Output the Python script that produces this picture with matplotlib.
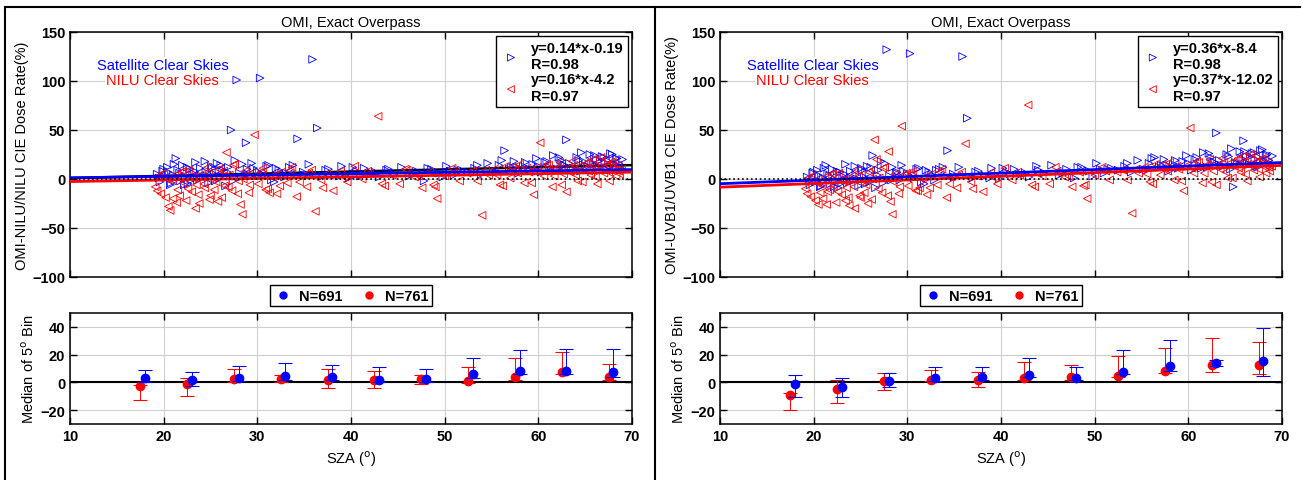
import matplotlib.pyplot as plt
import numpy as np

plt.rcParams['font.family'] = ['Liberation Sans', 'DejaVu Sans']

# SZA of the individual overpasses (same in both panels)
sza_sat = [19.3, 19.6, 19.9, 20.2, 20.4, 20.7, 21.0, 21.3, 21.5, 21.8,
           22.0, 22.3, 22.6, 22.8, 23.1, 23.4, 23.6, 23.9, 24.2, 24.5,
           24.8, 25.1, 25.4, 25.7, 26.0, 26.3, 26.6, 26.9, 27.2, 27.8,
           28.1, 28.4, 28.8, 29.2, 29.6, 30.0, 30.3, 30.7, 31.2, 31.8,
           32.3, 32.9, 33.4, 34.0, 34.3, 34.9, 35.5, 35.9, 36.4, 37.0,
           37.6, 38.3, 39.0, 39.8, 40.6, 41.4, 42.2, 43.0, 43.8, 44.6,
           45.4, 46.2, 47.0, 47.8, 48.6, 49.4, 50.2, 51.0, 51.8, 52.5,
           53.2, 53.9, 54.6, 55.2, 55.8, 56.4, 56.9, 57.4, 57.9, 58.4,
           58.9, 59.4, 59.8, 60.3, 60.7, 61.2, 61.6, 62.0, 62.4, 62.8,
           63.0, 63.3, 63.7, 64.1, 64.5, 64.8, 65.2, 65.5, 65.9, 66.2,
           66.5, 66.8, 67.1, 67.4, 67.7, 68.0, 68.3, 68.6, 68.8, 69.0,
           20.5, 22.2, 24.0, 25.9, 27.4, 29.0, 33.1, 41.0, 50.6, 57.1,
           19.5, 20.0, 20.8, 21.1, 21.7, 22.5, 23.0, 23.3, 24.4, 24.6,
           25.2, 25.5, 26.1, 26.8, 27.6, 28.3, 28.9, 29.4, 30.5, 31.0,
           31.5, 32.0, 32.6, 33.8, 35.0, 37.3, 38.8, 40.2, 42.6, 44.0,
           46.6, 48.2, 49.8, 51.4, 53.5, 55.5, 56.1, 57.7, 58.6, 59.1,
           60.0, 60.9, 61.4, 62.2, 62.6, 63.5, 64.3, 64.6, 65.0, 65.7,
           66.0, 66.3, 66.6, 67.0, 67.2, 67.5, 67.9, 68.1, 68.4, 68.7]
sza_nilu = [19.1, 19.4, 19.7, 20.0, 20.3, 20.7, 21.0, 21.2, 21.5, 21.9,
            22.1, 22.4, 22.7, 23.0, 23.2, 23.5, 23.8, 24.1, 24.4, 24.7,
            25.0, 25.3, 25.6, 25.9, 26.2, 26.5, 26.7, 27.0, 27.3, 27.6,
            28.0, 28.4, 28.7, 29.1, 29.4, 29.7, 30.1, 30.6, 31.1, 31.6,
            32.1, 32.6, 33.2, 33.7, 34.2, 34.7, 35.3, 35.8, 36.2, 36.8,
            37.4, 38.1, 38.9, 39.6, 40.4, 41.2, 42.0, 42.9, 43.6, 44.4,
            45.2, 46.0, 46.8, 47.6, 48.4, 49.2, 50.0, 50.8, 51.6, 52.4,
            53.0, 54.0, 54.7, 55.3, 55.9, 56.5, 57.0, 57.5, 58.0, 58.5,
            59.0, 59.5, 59.9, 60.2, 60.6, 61.1, 61.5, 61.9, 62.3, 62.7,
            63.0, 63.2, 63.6, 64.0, 64.4, 64.7, 65.1, 65.4, 65.8, 66.1,
            66.4, 66.7, 67.0, 67.3, 67.6, 67.9, 68.2, 68.5, 68.7, 68.9,
            20.5, 21.7, 23.4, 24.9, 26.4, 28.2, 29.9, 31.3, 45.8, 49.0,
            19.3, 19.8, 20.2, 20.9, 21.4, 22.0, 22.6, 23.1, 23.7, 24.3,
            24.8, 25.4, 25.8, 26.3, 26.9, 27.4, 27.9, 28.5, 29.2, 30.4,
            30.9, 31.8, 32.4, 33.5, 34.5, 35.5, 37.0, 39.3, 41.8, 43.3,
            47.2, 48.8, 51.2, 53.5, 54.4, 55.6, 56.2, 57.2, 57.8, 58.8,
            59.3, 60.4, 60.9, 61.7, 62.1, 62.5, 63.4, 63.8, 64.2, 64.9,
            65.3, 65.6, 66.0, 66.3, 66.9, 67.2, 67.5, 67.8, 68.3, 68.6]

# left panel: OMI-NILU/NILU (%)
diff_sat_nilu = [5, -3, 8, 2, 12, -6, 4, 21, 9, -2,
                 14, 3, -5, 10, 6, 17, -1, 11, 2, 7,
                 -4, 13, 5, 16, 1, 9, -7, 12, 50, 101,
                 6, 15, 37, 3, 11, 8, 103, 4, 14, -3,
                 9, 2, 12, 5, 41, 7, 15, 122, 52, 3,
                 10, 4, 13, 1, 8, 11, 6, 2, 9, 5,
                 12, 3, 8, -2, 10, 6, 13, 4, 9, 7,
                 11, 5, 16, 8, 14, 29, 10, 18, 6, 13,
                 9, 15, 21, 7, 17, 12, 24, 10, 19, 14,
                 40, 16, 11, 22, 8, 18, 13, 25, 15, 20,
                 12, 23, 17, 9, 26, 14, 21, 16, 11, 20,
                 7, -6, 3, 9, -2, 5, 6, 3, 8, 12,
                 1, 10, -4, 15, 6, 12, -1, 8, 18, 3,
                 11, -2, 14, 7, 19, 2, 10, 16, 5, 13,
                 -1, 11, 6, 14, 4, 9, 3, 12, 7, 10,
                 5, 11, 2, 9, 14, 7, 19, 12, 17, 10,
                 13, 18, 8, 22, 15, 11, 19, 27, 14, 17,
                 24, 13, 19, 22, 10, 18, 25, 15, 21, 13]
diff_nilu_nilu = [-8, 3, -15, 6, 0, -32, -20, 4, -11, 7,
                  -4, -22, 9, -13, 2, -6, -25, 5, -9, 12,
                  -17, 1, -3, 10, -19, -7, 27, 4, -12, 15,
                  -2, -36, 8, -14, 6, 45, -5, 11, -10, 2,
                  -15, 7, -4, 12, -18, 3, -8, 9, -33, -1,
                  5, -12, 8, -3, 13, 0, 6, 64, -7, 4,
                  -5, 9, 2, -9, 7, -20, 3, 11, -2, 6,
                  8, -37, 4, 10, -6, 13, 1, 9, 15, -4,
                  7, -16, 12, 37, 3, 14, -8, 10, 17, 5,
                  -13, 11, 18, 4, 13, -3, 16, 8, 20, 2,
                  12, 22, 6, 15, -2, 18, 9, 14, 5, 10,
                  -28, -17, -30, -21, 8, -26, 3, -14, 10, -8,
                  -12, 5, -19, -2, -24, 8, -10, 1, -16, -5,
                  6, -11, -23, 3, -8, 14, -15, 0, -6, 7,
                  -11, 4, -7, 9, -3, 6, -9, 2, 8, -5,
                  3, -6, 7, -2, 9, 4, -7, 12, 6, 11,
                  -4, 9, 15, 3, 12, -6, 7, 14, -2, 10,
                  17, 4, 13, -5, 11, 20, 7, 16, 3, 8]

# right panel: OMI-UVB1/UVB1 (%)
diff_sat_uvb1 = [2, -6, 6, -3, 9, -8, 1, 14, 5, -5,
                 10, -1, -9, 7, 3, 15, -4, 8, -2, 4,
                 -7, 11, 2, 13, -3, 24, -9, 9, 18, 132,
                 3, 12, 6, -1, 8, 5, 128, 1, 11, -5,
                 7, -1, 10, 3, 29, 5, 12, 125, 62, 1,
                 8, 3, 11, 0, 7, 10, 5, 2, 13, 6,
                 14, 4, 10, 1, 12, 8, 16, 6, 11, 9,
                 13, 7, 19, 10, 16, 22, 12, 20, 8, 15,
                 11, 18, 24, 9, 20, 14, 27, 12, 22, 17,
                 47, 19, 13, 25, 10, -8, 16, 28, 39, 23,
                 15, 26, 20, 12, 29, 17, 24, 19, 14, 23.5,
                 4, -8, 1, 6, -4, 2, 9, 5, 10, 14,
                 -2, 7, -7, 11, 3, 8, -4, 5, 13, 0,
                 9, -5, 12, 4, 16, -1, 7, 14, 2, 10,
                 -3, 9, 4, 12, 2, 7, 1, 11, 6, 9,
                 6, 12, 3, 10, 16, 9, 21, 14, 19, 12,
                 16, 22, 11, 26, 18, 14, 23, 31, 17, 21,
                 28, 16, 23, 27, 13, 22, 30, 18, 25, 16]
diff_nilu_uvb1 = [-10, 1, -18, 4, -4, -14, -20, 2, -13, 5,
                  -7, -24, 6, -16, -1, -9, -27, 3, -30, 9,
                  -19, -2, -6, 7, -21, 40, 20, 1, -14, 12,
                  28, -36, 5, -15, 54, 4, -7, 8, -12, 0,
                  -16, 5, -6, 10, -19, 2, -9, 7, 36, -3,
                  3, -13, 6, -5, 11, -1, 4, 75.5, -8, 3,
                  -5, 8, 2, -8, 7, -20, 4, 12, -1, 7,
                  9, -35, 6, 12, -3, 15, 4, 11, 17, -1,
                  10, -12, 14, 52, 6, 17, -4, 13, 20, 8,
                  -6, 14, 21, 7, 16, 1, 19, 11, 23, 5,
                  15, 25, 9, 18, 2, 21, 12, 17, 8, 13,
                  -26, -11, -22, -17, 10, -23, 6, -9, 12, -6,
                  -15, 2, -22, -6, -26, 5, -13, -2, -19, -8,
                  3, -14, -25, 0, -10, 11, -17, -3, -8, 5,
                  -12, 2, -9, 7, -5, 4, -10, 1, 7, -6,
                  3, -7, 8, -1, 10, 5, -5, 14, 8, 13,
                  -2, 11, 18, 6, 15, -3, 10, 17, 1, 13,
                  21, 7, 17, -2, 14, 24, 10, 20, 6, 12]

# regression lines (slope, intercept)
fit_sat = [(0.14, -0.19), (0.36, -8.4)]
fit_nilu = [(0.16, -4.2), (0.37, -12.02)]
fit_r_sat = [0.98, 0.98]
fit_r_nilu = [0.97, 0.97]
ref_line = (0.22, -1.2)  # black line, left panel only

# 5 degree bin medians
bin_sat = [18, 23, 28, 33, 38, 43, 48, 53, 58, 63, 68]
bin_nilu = [17.5, 22.5, 27.5, 32.5, 37.5, 42.5, 47.5, 52.5, 57.5, 62.5, 67.5]
med_sat = [[2.9, 1.4, 3.4, 4.3, 3.9, 1.9, 2.4, 6.0, 8.2, 8.2, 7.2],
           [-1, -3.1, 1, 2.9, 3.6, 5.5, 2.9, 7.5, 11.8, 14, 15.4]]
lo_sat = [[0, -2.4, 1, 2, 2, 0, 0, 3, 6, 5.8, 4],
          [-10.6, -10.4, -3.6, 1, 2, 4, 2, 6, 8, 12, 4.3]]
hi_sat = [[8.7, 7.2, 12, 14, 12.8, 11.3, 9.6, 17.3, 23, 24, 24],
          [5, 2.9, 7, 10.8, 10.8, 17.8, 10.8, 23.4, 30.4, 16, 39.5]]
med_nilu = [[-2.6, -1.4, 2.4, 2.6, 1.9, 1.4, 2.4, 1.2, 3.9, 7.2, 3.9],
            [-9, -4.8, 0.7, 1.7, 1.7, 3.1, 3.6, 4.8, 8.2, 12.8, 12.8]]
lo_nilu = [[-12.5, -10, 0, 0, -4.1, -4.1, -1.2, -0.5, 2, 5.8, 2],
           [-20, -15, -5.5, 1, -3.6, 2, 2, 4, 7, 7.2, 6.3]]
hi_nilu = [[-2, 3, 10, 5, 9.6, 8.4, 5, 10.8, 17.8, 22, 13],
           [-8, 2, 6.5, 9.2, 7.7, 15, 12.8, 18.8, 24.8, 31.8, 28.9]]

n_sat, n_nilu = 691, 761
ylabels = ["OMI-NILU/NILU CIE Dose Rate(%)", "OMI-UVB1/UVB1 CIE Dose Rate(%)"]
BLUE, RED = "#0000ff", "#ff0000"

W, H = 1303, 481
fig = plt.figure(figsize=(W / 100, H / 100), dpi=100)


def style(ax):
    ax.tick_params(direction="in", top=True, right=True, length=5, width=1,
                   labelsize=10.5)
    for lab in ax.get_xticklabels() + ax.get_yticklabels():
        lab.set_fontweight("bold")
    ax.grid(True, color="#d0d0d0", lw=0.8)
    ax.set_axisbelow(True)
    for s in ax.spines.values():
        s.set_linewidth(1.1)


diffs_sat = [diff_sat_nilu, diff_sat_uvb1]
diffs_nilu = [diff_nilu_nilu, diff_nilu_uvb1]
lefts = [70, 720]
MS = 30

for i in range(2):
    x0 = lefts[i]
    ax = fig.add_axes([x0 / W, (H - 278) / H, 562 / W, 245 / H])
    xs = np.array([10, 70])
    if i == 0:
        ax.plot(xs, ref_line[0] * xs + ref_line[1], color="k", lw=1.8, zorder=2)
    ax.scatter(sza_sat, diffs_sat[i], marker=">", s=MS, facecolors="none",
               edgecolors=BLUE, linewidths=0.6, zorder=3)
    ax.scatter(sza_nilu, diffs_nilu[i], marker="<", s=MS, facecolors="none",
               edgecolors=RED, linewidths=0.6, zorder=3)
    ax.plot(xs, fit_sat[i][0] * xs + fit_sat[i][1], color=BLUE, lw=2, zorder=4)
    ax.plot(xs, fit_nilu[i][0] * xs + fit_nilu[i][1], color=RED, lw=2, zorder=4)
    ax.axhline(0, color="k", ls=":", lw=1.2, zorder=4)
    ax.set_xlim(10, 70)
    ax.set_ylim(-100, 150)
    ax.set_xticks(range(10, 71, 10))
    ax.set_yticks(range(-100, 151, 50))
    style(ax)
    ax.set_xticklabels([])
    ax.set_ylabel(ylabels[i], fontsize=10.5, labelpad=2)
    ax.set_title("OMI, Exact Overpass", fontsize=10.5, pad=4)
    ax.text(0.165, 0.865, "Satellite Clear Skies", color=BLUE, fontsize=10.5,
            ha="center", va="center", transform=ax.transAxes,
            bbox=dict(facecolor="white", edgecolor="none", pad=1))
    ax.text(0.165, 0.805, "NILU Clear Skies", color=RED, fontsize=10.5,
            ha="center", va="center", transform=ax.transAxes,
            bbox=dict(facecolor="white", edgecolor="none", pad=1))
    h1 = ax.scatter([], [], marker=">", s=26, facecolors="none",
                    edgecolors=BLUE, linewidths=0.6)
    h2 = ax.scatter([], [], marker="<", s=26, facecolors="none",
                    edgecolors=RED, linewidths=0.6)
    lab1 = "y=%g*x%+g\nR=%.2f" % (fit_sat[i][0], fit_sat[i][1], fit_r_sat[i])
    lab2 = "y=%g*x%+g\nR=%.2f" % (fit_nilu[i][0], fit_nilu[i][1], fit_r_nilu[i])
    leg = ax.legend([h1, h2], [lab1, lab2], loc="upper right",
                    prop=dict(weight="bold", size=10.5), fancybox=False,
                    edgecolor="k", framealpha=1, borderpad=0.3,
                    labelspacing=0.1, handletextpad=0.6, handlelength=1.5,
                    borderaxespad=0.3)
    leg.get_frame().set_linewidth(1)

    # lower panel: medians of 5 degree bins
    bx = fig.add_axes([x0 / W, (H - 425) / H, 562 / W, 111 / H])
    m = np.array(med_sat[i])
    e_sat = [m - np.array(lo_sat[i]), np.array(hi_sat[i]) - m]
    m2 = np.array(med_nilu[i])
    e_nilu = [m2 - np.array(lo_nilu[i]), np.array(hi_nilu[i]) - m2]
    bx.axhline(0, color="k", lw=1.5, zorder=2)
    bx.errorbar(bin_nilu, m2, yerr=np.clip(e_nilu, 0, None), fmt="o",
                color=RED, ms=6, elinewidth=0.7, capsize=5, capthick=0.8,
                zorder=3)
    bx.errorbar(bin_sat, m, yerr=np.clip(e_sat, 0, None), fmt="o",
                color=BLUE, ms=6, elinewidth=0.7, capsize=5, capthick=0.8,
                zorder=4)
    bx.set_xlim(10, 70)
    bx.set_ylim(-30, 50)
    bx.set_xticks(range(10, 71, 10))
    bx.set_yticks([-20, 0, 20, 40])
    style(bx)
    bx.set_ylabel("Median of 5$^{\\rm o}$ Bin", fontsize=10.5, labelpad=2)
    bx.set_xlabel("SZA ($^{\\rm o}$)", fontsize=10.5, labelpad=4)
    dot_b = plt.Line2D([], [], marker="o", ls="none", color=BLUE, ms=5)
    dot_r = plt.Line2D([], [], marker="o", ls="none", color=RED, ms=5)
    lg = bx.legend([dot_b, dot_r], ["N=%d" % n_sat, "N=%d" % n_nilu],
                   loc="lower center", bbox_to_anchor=(0.5, 1.06), ncol=2,
                   prop=dict(weight="bold", size=10.5), fancybox=False,
                   edgecolor="k", framealpha=1, borderpad=0.25,
                   handletextpad=0.5, columnspacing=1.2, handlelength=1.2,
                   borderaxespad=0)
    lg.get_frame().set_linewidth(1)

# panel frames
fl = dict(color="k", lw=1.5, transform=fig.transFigure)
fig.add_artist(plt.Line2D([5 / W, 1300 / W], [1 - 8 / H, 1 - 8 / H], **fl))
fig.add_artist(plt.Line2D([5 / W, 5 / W], [0, 1 - 8 / H], **fl))
fig.add_artist(plt.Line2D([655 / W, 655 / W], [0, 1 - 8 / H], **fl))

fig.savefig("out.png", dpi=100)
